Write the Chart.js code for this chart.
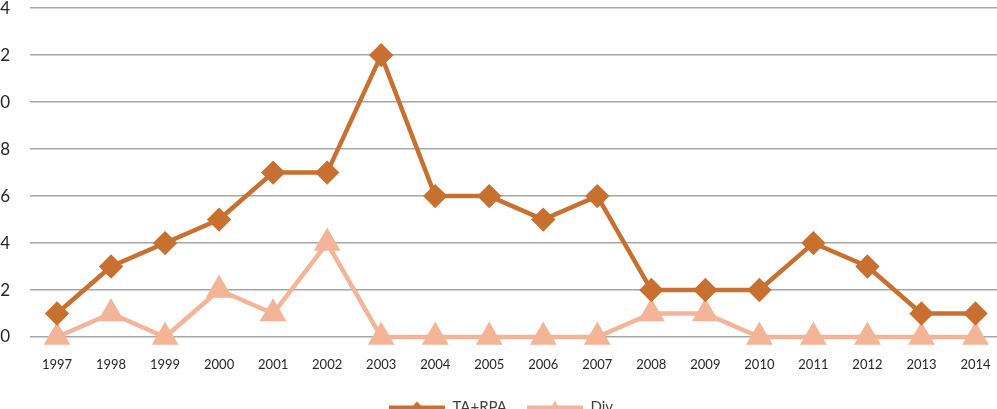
<!DOCTYPE html>
<html><head><meta charset="utf-8">
<script src="https://cdn.jsdelivr.net/npm/chart.js@4"></script>
<style>
html,body{margin:0;padding:0;background:#fff;}
#wrap{position:relative;width:997px;height:409px;overflow:hidden;background:#fff;}
#c{position:absolute;left:-12px;top:-22px;}
</style></head><body>
<div id="wrap"><canvas id="c" width="1030" height="447"></canvas></div>
<script>
const years = ["1997","1998","1999","2000","2001","2002","2003","2004","2005","2006","2007","2008","2009","2010","2011","2012","2013","2014"];
const taRpa = [1,3,4,5,7,7,12,6,6,5,6,2,2,2,4,3,1,1];
const div = [0,1,0,2,1,4,0,0,0,0,0,1,1,0,0,0,0,0];
const seriesNames = ["TA+RPA","Div"];
const yTicks = [0,2,4,6,8,10,12,14];

const C1 = "#c8702f", C2 = "#f3b497";

function legendIcon(color, style){
  const cv = document.createElement('canvas');
  cv.width = 56; cv.height = 16;
  const g = cv.getContext('2d');
  g.strokeStyle = color; g.lineWidth = 4;
  g.beginPath(); g.moveTo(0,8); g.lineTo(56,8); g.stroke();
  g.fillStyle = color;
  g.beginPath();
  if(style==='d'){ g.moveTo(28,2); g.lineTo(34,8); g.lineTo(28,14); g.lineTo(22,8); }
  else { g.moveTo(28,1); g.lineTo(35,14); g.lineTo(21,14); }
  g.closePath(); g.fill();
  return cv;
}
const icons = [legendIcon(C1,'d'), legendIcon(C2,'t')];

new Chart(document.getElementById('c'), {
  type: 'line',
  data: {
    labels: years,
    datasets: [
      {label: seriesNames[0], data: taRpa, borderColor: C1, backgroundColor: C1, borderWidth: 4.5,
       pointStyle: 'rectRot', pointRadius: 9, pointHoverRadius: 9, tension: 0, clip: false},
      {label: seriesNames[1], data: div, borderColor: C2, backgroundColor: C2, borderWidth: 4.5,
       pointStyle: 'triangle', pointRadius: 11, pointHoverRadius: 11, tension: 0, clip: false}
    ]
  },
  options: {
    responsive: false, animation: false, devicePixelRatio: 1,
    layout: {padding: {top: 7, right: 4, left: 0, bottom: 0}},
    plugins: {
      tooltip: {enabled: false},
      legend: {
        position: 'bottom',
        labels: {
          usePointStyle: true, pointStyleWidth: 56, boxHeight: 16, padding: 20,
          color: '#404040', font: {family: 'Lato', size: 15},
          generateLabels: (chart) => chart.data.datasets.map((d,i)=>({
            text: d.label, pointStyle: icons[i], fillStyle: d.borderColor, strokeStyle: d.borderColor,
            lineWidth: 0, hidden: false, datasetIndex: i, fontColor: '#404040'
          }))
        }
      }
    },
    scales: {
      x: {
        offset: true,
        grid: {display: false, drawTicks: false},
        border: {display: false},
        ticks: {color: '#262626', font: {family: 'Lato', size: 13}, padding: 20, maxRotation: 0, autoSkip: false},
        afterFit: (s) => { s.height = 43; }
      },
      y: {
        min: 0, max: 14,
        afterBuildTicks: (s) => { s.ticks = yTicks.map(v=>({value:v})); },
        grid: {color: '#a6a6a6', lineWidth: 1.5, drawTicks: false},
        border: {display: false},
        ticks: {color: '#262626', font: {family: 'Lato', size: 17}, padding: 20},
        afterFit: (s) => { s.width = 42; }
      }
    }
  }
});
</script>
</body></html>
